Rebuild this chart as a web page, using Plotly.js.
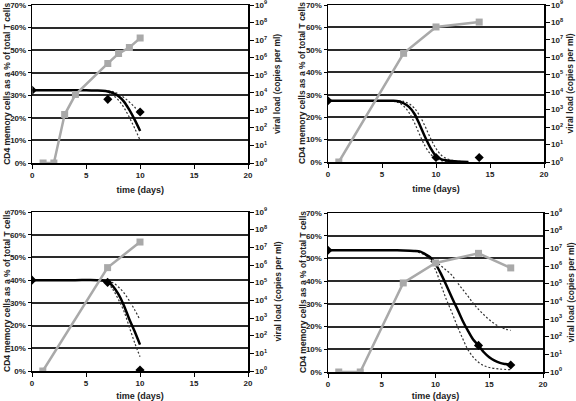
<!DOCTYPE html>
<html><head><meta charset="utf-8">
<script src="https://cdn.plot.ly/plotly-3.0.1.min.js"></script>
<style>html,body{margin:0;padding:0;background:#fff}#chart{width:576px;height:401px}</style>
</head><body><div id="chart"></div>
<script>
// ---------- data ----------
const xTicks = [0, 5, 10, 15, 20];
const pctTicks = [0, 10, 20, 30, 40, 50, 60, 70];
const pctTickText = ["0%","10%","20%","30%","40%","50%","60%","70%"];
const vlTicks = [1,1e1,1e2,1e3,1e4,1e5,1e6,1e7,1e8,1e9];
const vlTickText = ["10<sup>0</sup>","10<sup>1</sup>","10<sup>2</sup>","10<sup>3</sup>","10<sup>4</sup>","10<sup>5</sup>","10<sup>6</sup>","10<sup>7</sup>","10<sup>8</sup>","10<sup>9</sup>"];
const xTitle = "time (days)";
const yLeftTitle = "CD4 memory cells as a % of total T cells";
const yRightTitle = "viral load (copies per ml)";

// panel 1 (top left)
const p1FitX = [0,2,4,5,6,6.5,7,7.5,8,8.5,9,9.5,10];
const p1FitY = [32.2,32.2,32.2,32.2,32.1,32,31.7,31,29.6,27.2,23.5,19.1,14.2];
const p1UpX = [7,7.5,8,8.5,9,9.5,10];
const p1UpY = [32,31.6,30.6,29,27,24.7,21.8];
const p1LoX = [7,7.5,8,8.5,9,9.5,10];
const p1LoY = [31.5,30,27.8,24.5,20.2,15.3,10];
const p1ObsX = [0,7,10];
const p1ObsY = [32.2,28.2,22.6];
const p1VlX = [1,2,3,4,7,8,9,10];
const p1VlY = [1,1,575,7900,4.7e5,1.7e6,3.8e6,1.3e7];

// panel 2 (top right)
const p2FitX = [0,2,4,6,6.5,7,7.5,8,8.5,9,9.5,10,10.5,11,12,13];
const p2FitY = [27.3,27.3,27.3,27.3,27.1,26.2,24.6,21.5,16.5,11,6.2,2.6,1.2,0.7,0.2,0];
const p2UpX = [6.5,7,7.5,8,8.5,9,9.5,10,10.5,11,11.5,12,13];
const p2UpY = [27.3,27,26,24,20.5,15.8,10.5,6,3,1.5,0.7,0.3,0];
const p2LoX = [6,6.5,7,7.5,8,8.5,9,9.5,10,10.5,11,12];
const p2LoY = [27.2,26.5,25,22,17.5,12,7,3.5,1.5,0.6,0.2,0];
const p2ObsX = [0,10,14];
const p2ObsY = [27.3,2,2];
const p2VlX = [1,7,10,14];
const p2VlY = [1,1.7e6,5.5e7,1.05e8];

// panel 3 (bottom left)
const p3FitX = [0,2,4,6,6.5,7,7.5,8,8.5,9,9.5,10];
const p3FitY = [40,40,40,40,39.8,39.2,37.3,33.8,29,22.9,17.5,11.6];
const p3UpX = [7,7.5,8,8.5,9,9.5,10];
const p3UpY = [39.5,38.8,37,34.5,31,27,22.5];
const p3LoX = [7,7.5,8,8.5,9,9.5,10];
const p3LoY = [38.8,35.8,31.5,26.5,19.5,12.5,6.3];
const p3ObsX = [0,7,10];
const p3ObsY = [40,39,0.4];
const p3VlX = [1,7,10];
const p3VlY = [1,7.1e5,2.0e7];

// panel 4 (bottom right)
const p4FitX = [0,2,4,6,7,8,8.6,9,9.5,10,10.5,11,11.5,12,12.5,13,13.5,14,14.5,15,15.5,16,16.5,17];
const p4FitY = [53.6,53.6,53.6,53.6,53.5,53.3,53,52,50.5,47.6,43.3,38.3,33,28,22.8,18.3,14.3,11.7,8.7,6.5,5,4,3.5,3.1];
const p4UpX = [8,9,10,10.5,11,11.5,12,12.5,13,13.5,14,14.5,15,15.5,16,16.5,17];
const p4UpY = [53.5,52,48.8,46.8,44.8,42.7,39.6,36.5,33.5,30.3,27.6,25.2,23,21.2,19.8,18.9,18.3];
const p4LoX = [8,9,9.5,10,10.5,11,11.5,12,12.5,13,13.5,14,14.5,15,16,17];
const p4LoY = [53.3,51.5,49.3,45,38.5,32,26.5,20.5,15,10,6.6,4.3,2.8,2,1.3,1];
const p4ObsX = [0,14,17];
const p4ObsY = [53.6,11.7,3.1];
const p4VlX = [1,3,7,10,14,17];
const p4VlY = [1,1,1.1e5,1.48e6,5.2e6,7.8e5];

// ---------- build ----------
const FONT = "Liberation Sans, Arial, DejaVu Sans, sans-serif";
const GRAY = "#a9a9a9";
const panels = [
  {fx:p1FitX,fy:p1FitY,ux:p1UpX,uy:p1UpY,lx:p1LoX,ly:p1LoY,ox:p1ObsX,oy:p1ObsY,vx:p1VlX,vy:p1VlY, dx:[32.3,248], dy:[5,163], rt:29},
  {fx:p2FitX,fy:p2FitY,ux:p2UpX,uy:p2UpY,lx:p2LoX,ly:p2LoY,ox:p2ObsX,oy:p2ObsY,vx:p2VlX,vy:p2VlY, dx:[328,544], dy:[5,162], rt:26},
  {fx:p3FitX,fy:p3FitY,ux:p3UpX,uy:p3UpY,lx:p3LoX,ly:p3LoY,ox:p3ObsX,oy:p3ObsY,vx:p3VlX,vy:p3VlY, dx:[32,248], dy:[212,371], rt:29},
  {fx:p4FitX,fy:p4FitY,ux:p4UpX,uy:p4UpY,lx:p4LoX,ly:p4LoY,ox:p4ObsX,oy:p4ObsY,vx:p4VlX,vy:p4VlY, dx:[328,543], dy:[213,372], rt:27}
];
const W = 576, H = 401;
const traces = [];
const annotations = [];
const layout = {
  width: W, height: H, margin:{l:0,r:0,t:0,b:0},
  paper_bgcolor:"#fff", plot_bgcolor:"#fff", showlegend:false,
  font:{family:FONT, size:8, color:"#000"}
};
const tickFont = {family:FONT, size:8, color:"#222", weight:"bold"};
const titleFont = {family:FONT, size:8.5, color:"#222", weight:"bold"};
panels.forEach((p, i) => {
  const xa = "x" + (i+1), yl = "y" + (2*i+1), yr = "y" + (2*i+2);
  const xk = "xaxis" + (i+1), ylk = "yaxis" + (2*i+1), yrk = "yaxis" + (2*i+2);
  const xd = [p.dx[0]/W, p.dx[1]/W];
  const yd = [1 - p.dy[1]/H, 1 - p.dy[0]/H];
  layout[xk] = {domain:xd, anchor:yl, range:[0,20], tickvals:xTicks, ticktext:xTicks.map(String),
    showgrid:false, zeroline:false, showline:true, linecolor:"#000", linewidth:1.5, mirror:true,
    ticks:"outside", ticklen:4, tickcolor:"#000", tickfont:tickFont, ticklabeloverflow:"allow",
    title:{text:xTitle, font:{family:FONT, size:9, color:"#222", weight:"bold"}, standoff:7}};
  layout[ylk] = {domain:yd, anchor:xa, range:[0,70], tickvals:pctTicks, ticktext:pctTickText,
    showgrid:true, gridcolor:"#2a2a2a", gridwidth:2, zeroline:false, showline:true, linecolor:"#000", linewidth:1.5,
    ticks:"outside", ticklen:3, tickcolor:"#000", tickfont:tickFont, ticklabeloverflow:"allow"};
  layout[yrk] = {overlaying:yl, anchor:xa, side:"right", type:"log", range:[0,9], tickvals:vlTicks, ticktext:vlTickText,
    showgrid:false, zeroline:false, showline:true, linecolor:"#000", linewidth:1.5,
    ticks:"outside", ticklen:4, tickcolor:"#000", tickfont:tickFont, ticklabeloverflow:"allow"};
  const yc = 1 - (p.dy[0] + p.dy[1]) / 2 / H;
  annotations.push({xref:"paper", yref:"paper", x:(p.dx[0]-25.5)/W, y:yc, xanchor:"center", yanchor:"middle",
    text:yLeftTitle, textangle:-90, showarrow:false, font:titleFont});
  annotations.push({xref:"paper", yref:"paper", x:(p.dx[1]+p.rt)/W, y:yc, xanchor:"center", yanchor:"middle",
    text:yRightTitle, textangle:-90, showarrow:false, font:titleFont});
  traces.push({x:p.ux, y:p.uy, xaxis:xa, yaxis:yl, mode:"lines", line:{color:"#333", width:1.2, dash:"2px,2px", shape:"spline"}, hoverinfo:"skip"});
  traces.push({x:p.lx, y:p.ly, xaxis:xa, yaxis:yl, mode:"lines", line:{color:"#333", width:1.2, dash:"2px,2px", shape:"spline"}, hoverinfo:"skip"});
  traces.push({x:p.fx, y:p.fy, xaxis:xa, yaxis:yl, mode:"lines", line:{color:"#000", width:2.5, shape:"spline", smoothing:0.8}});
  traces.push({x:p.ox, y:p.oy, xaxis:xa, yaxis:yl, mode:"markers", marker:{symbol:"diamond", size:7, color:"#000"}});
  traces.push({x:p.vx, y:p.vy, xaxis:xa, yaxis:yr, mode:"lines+markers", line:{color:GRAY, width:2.5}, marker:{symbol:"square", size:7, color:GRAY}});
});
layout.annotations = annotations;
Plotly.newPlot("chart", traces, layout, {staticPlot:true, displayModeBar:false});
</script>
</body></html>
